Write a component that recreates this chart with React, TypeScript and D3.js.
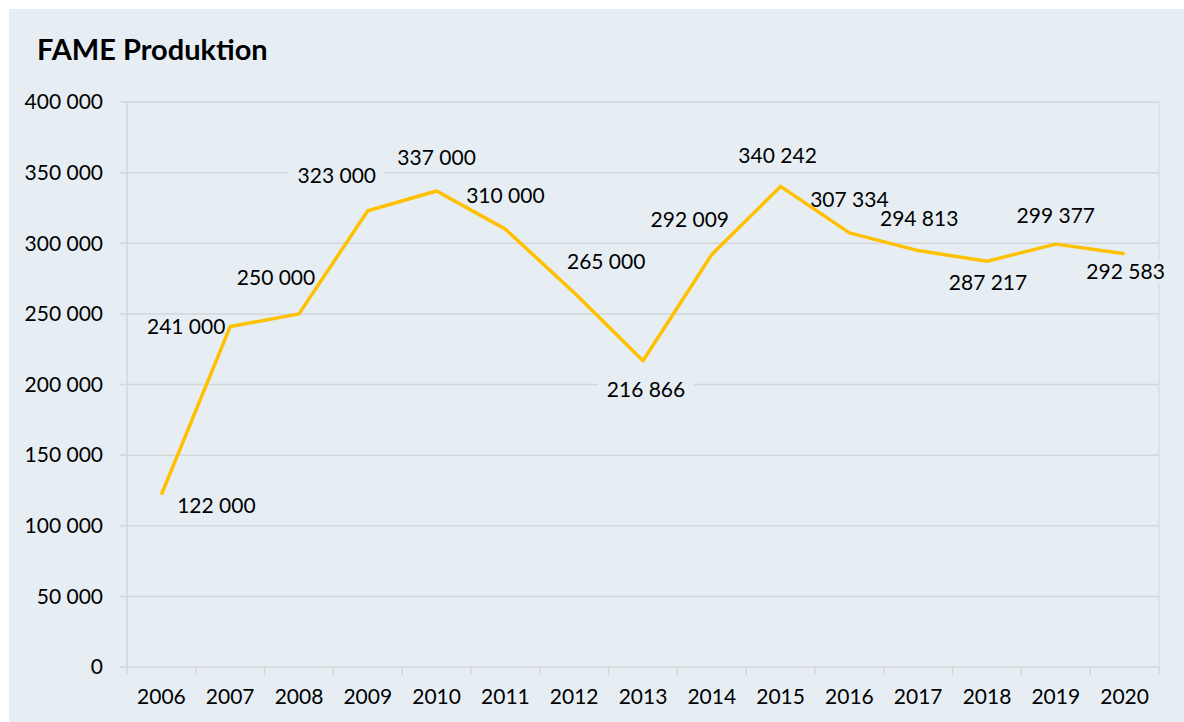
import React from "react";
import * as d3 from "d3";

const years = ["2006","2007","2008","2009","2010","2011","2012","2013","2014","2015","2016","2017","2018","2019","2020"];
const production = [122000,241000,250000,323000,337000,310000,265000,216866,292009,340242,307334,294813,287217,299377,292583];
const yTicks = [0,50000,100000,150000,200000,250000,300000,350000,400000];
// label offsets relative to point (px)
const labelDx = [55,-44,-23,-31,0,0,32,3,-22,-3,0,1,1,0,1];
const labelDy = [11,0,-36,-35,-33,-33,-31,29,-35,-31,-33,-32,21,-28,18];

const fmt = (v: number) => d3.format(",")(v).replace(/,/g, " ");

export default function App() {
  const W = 1184, H = 722;
  const left = 127, right = 1159, top = 102, bottom = 667;
  const x = d3.scaleBand().domain(years).range([left, right]).padding(0);
  const y = d3.scaleLinear().domain([0, 400000]).range([bottom, top]);
  const cx = (i: number) => (x(years[i]) as number) + x.bandwidth() / 2;
  const line = d3.line<number>().x((_, i) => cx(i)).y(d => y(d));
  const font = "Lato, 'Open Sans', sans-serif";
  const bg = "#e6eef4";
  const grid = "#d4d6d8";
  const fs = 21;
  return (
    <svg width={W} height={H} style={{ position: "absolute", left: 0, top: 0, background: "#fff" }}>
      <rect x={9} y={9} width={W - 9} height={H - 9} fill={bg} />
      <text x={37} y={60} fontFamily={font} fontWeight={700} fontSize={29} fill="#000">FAME Produktion</text>
      {yTicks.map(t => (
        <g key={t}>
          <line x1={120} x2={right} y1={y(t)} y2={y(t)} stroke={grid} strokeWidth={1.5} />
          <text x={103} y={y(t)} dy="0.35em" textAnchor="end" fontFamily={font} fontSize={fs} fill="#000">{fmt(t)}</text>
        </g>
      ))}
      <line x1={left} x2={left} y1={top} y2={bottom} stroke={grid} strokeWidth={1.5} />
      <line x1={right} x2={right} y1={top} y2={bottom} stroke="#dcdddf" strokeWidth={1.5} />
      {years.map((yr) => (
        <line key={"t" + yr} x1={x(yr) as number} x2={x(yr) as number} y1={bottom} y2={bottom + 8} stroke={grid} strokeWidth={1.5} />
      ))}
      <line x1={right} x2={right} y1={bottom} y2={bottom + 8} stroke={grid} strokeWidth={1.5} />
      {years.map((yr, i) => (
        <text key={yr} x={cx(i)} y={697} dy="0.35em" textAnchor="middle" fontFamily={font} fontSize={fs} fill="#000">{yr}</text>
      ))}
      {production.map((v, i) => {
        const lx = cx(i) + labelDx[i];
        const ly = y(v) + labelDy[i];
        return <rect key={"b" + i} x={lx - 48} y={ly - 11} width={96} height={22} fill={bg} />;
      })}
      <path d={line(production) || ""} fill="none" stroke="#ffc000" strokeWidth={3.5} strokeLinejoin="round" />
      {production.map((v, i) => {
        const lx = cx(i) + labelDx[i];
        const ly = y(v) + labelDy[i];
        return (
          <text key={"l" + i} x={lx} y={ly} dy="0.35em" textAnchor="middle" fontFamily={font} fontSize={fs} fill="#000">{fmt(v)}</text>
        );
      })}
    </svg>
  );
}
